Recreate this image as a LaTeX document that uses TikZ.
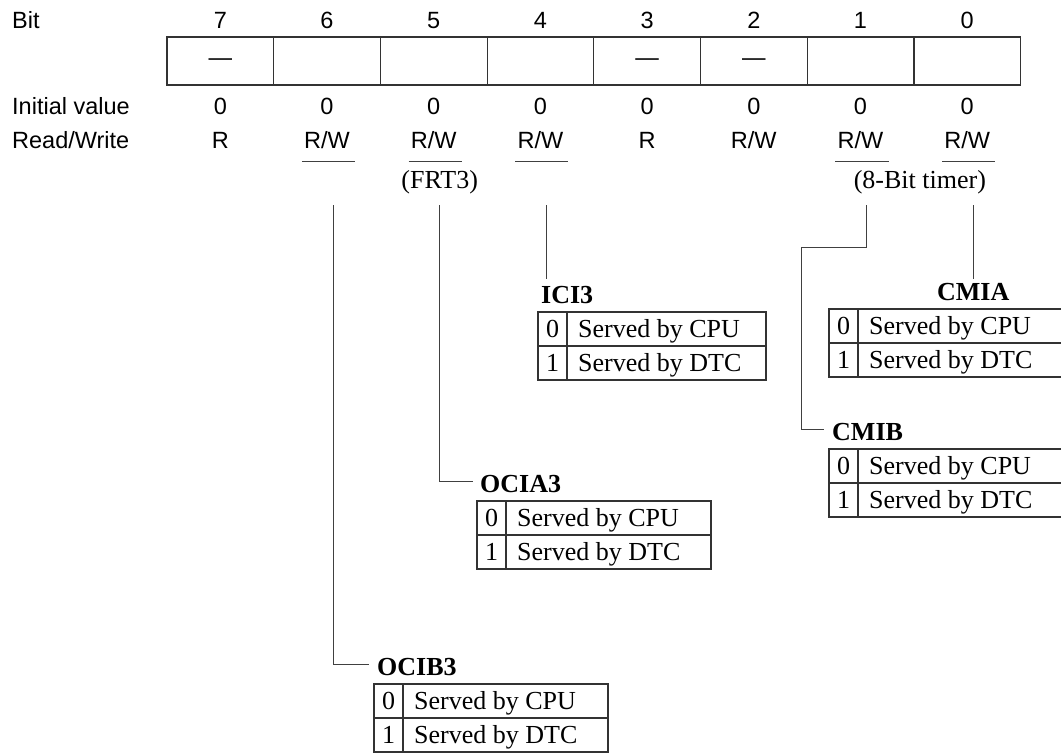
\documentclass[tikz,border=0pt]{standalone}
\usepackage{fontspec}
\setmainfont{Liberation Serif}
\setsansfont{Liberation Sans}
\usetikzlibrary{positioning,calc}

% table of the two settings of one interrupt bit
\newcommand{\servtab}[5]{%
  \node[title, anchor=base west] (#1) at (#2+3,#3-9) {#5};
  \draw[box] (#2,#3) rectangle (#2+#4,#3+68);
  \draw[box] (#2,#3+34) -- (#2+#4,#3+34);
  \draw[box] (#2+29,#3) -- (#2+29,#3+68);
  \node[serif, anchor=base] (#1-0) at (#2+14.5,#3+25) {0};
  \node[serif, anchor=base west] (#1-cpu) at (#2+40,#3+25) {Served by CPU};
  \node[serif, anchor=base] (#1-1) at (#2+14.5,#3+59) {1};
  \node[serif, anchor=base west] (#1-dtc) at (#2+40,#3+59) {Served by DTC};
}

\tikzset{
  sans/.style={font=\sffamily\fontsize{23.5}{28}\selectfont, inner sep=0pt},
  serif/.style={font=\fontsize{26}{30}\selectfont, inner sep=0pt},
  title/.style={font=\bfseries\fontsize{26}{30}\selectfont, inner sep=0pt},
  box/.style={line width=1.2pt, black!80},
  wire/.style={line width=1pt, black!75},
}

\begin{document}
\begin{tikzpicture}[x=1pt, y=-1pt]
  \useasboundingbox (0,0) rectangle (1061,753);

  % Row captions
  \node[sans, anchor=base west] (bit)  at (12,28)  {Bit};
  \node[sans, anchor=base west] (init) at (12,114) {Initial value};
  \node[sans, anchor=base west] (rw)   at (12,148) {Read/Write};

  % Register cells
  \draw[box] (167,37) rectangle (1020.6,85);
  \foreach \i in {1,...,7}
    \draw[box] (167+106.7*\i,37) -- (167+106.7*\i,85);

  % Bit numbers, initial values and access
  \foreach \b/\a [count=\k from 0] in {7/R,6/{R/W},5/{R/W},4/{R/W},3/R,2/{R/W},1/{R/W},0/{R/W}} {
    \node[sans, anchor=base] (n\b) at (220.3+106.7*\k,28)  {\b};
    \node[sans, anchor=base] (v\b) at (220.3+106.7*\k,114) {0};
    \node[sans, anchor=base] (a\b) at (220.3+106.7*\k,148) {\a};
  }
  \foreach \b in {7,3,2}
    \node[sans] (d\b) at (n\b |- 0,62) {\textemdash};

  % Underlined bits
  \foreach \b in {6,5,4,1,0} {
    \draw[wire] ($(a\b.base west)+(-2,13)$) -- ($(a\b.base east)+(5,13)$);
    \coordinate (t\b) at ($(a\b.base)+(6,57)$);
  }

  \coordinate (m10) at ($(t1)!0.5!(t0)$);
  \node[serif, anchor=base] (frt) at (t5 |- 0,188) {(FRT3)};
  \node[serif, anchor=base] (tmr) at (m10 |- 0,188) {(8-Bit timer)};

  % Tables
  \servtab{ici}{538}{312}{228}{ICI3}
  \servtab{ocia}{477}{501}{234}{OCIA3}
  \servtab{ocib}{374}{684}{234}{OCIB3}
  \servtab{cmib}{829}{449}{234}{CMIB}
  \draw[box] (829,309) rectangle (1063,377);
  \draw[box] (829,343) -- (1063,343);
  \draw[box] (858,309) -- (858,377);
  \node[serif, anchor=base] (cmia-0) at (843.5,334) {0};
  \node[serif, anchor=base west] (cmia-cpu) at (869,334) {Served by CPU};
  \node[serif, anchor=base] (cmia-1) at (843.5,368) {1};
  \node[serif, anchor=base west] (cmia-dtc) at (869,368) {Served by DTC};
  \node[title, anchor=base] (cmia) at (t0 |- 0,300) {CMIA};

  % Connectors
  \coordinate (e4) at (t4 |- 0,279);
  \coordinate (e0) at (t0 |- 0,279);
  \coordinate (k1) at (t1 |- 0,247);
  \coordinate (k2) at (801,247);

  \draw[wire] (t4) -- (e4);
  \draw[wire] (t0) -- (e0);
  \draw[wire] (t5) |- ([xshift=-7pt,yshift=2pt]ocia.west);
  \draw[wire] (t6) |- ([xshift=-8pt,yshift=2pt]ocib.west);
  \draw[wire] (t1) -- (k1) -- (k2) |- ([xshift=-8pt,yshift=2pt]cmib.west);
\end{tikzpicture}
\end{document}
